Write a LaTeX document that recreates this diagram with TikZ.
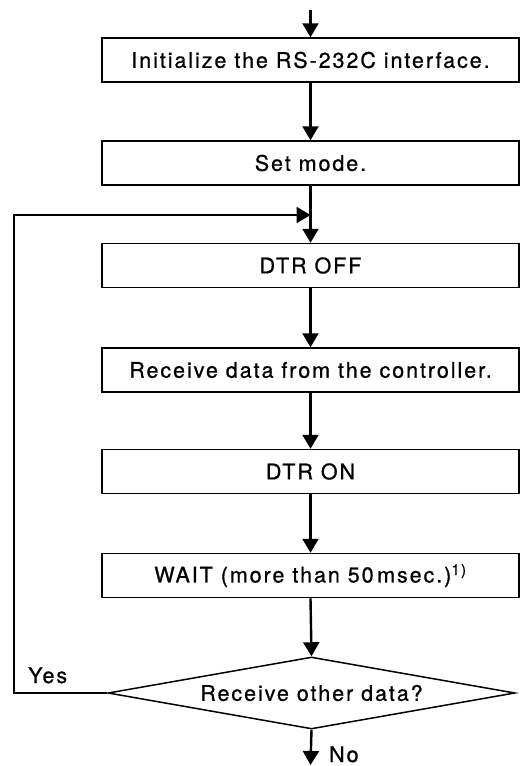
\documentclass[tikz,border=0pt]{standalone}
\usepackage{fontspec}
\setmainfont[LetterSpace=9,FakeBold=0.8]{TeX Gyre Heros}
\usetikzlibrary{arrows.meta,shapes.geometric}
\begin{document}
\begin{tikzpicture}[x=1pt,y=-1pt, line width=2.4pt,
  txt/.style={font=\fontsize{21.5}{25}\selectfont},
  box/.style={draw, txt, line width=1.5pt, minimum width=417pt, minimum height=44pt, inner sep=0pt},
  dec/.style={draw, txt, line width=1.5pt, diamond, aspect=5.65, minimum width=407pt, minimum height=72pt, inner sep=0pt},
  lbl/.style={txt, inner sep=0pt},
  arr/.style={-{Triangle[width=16pt,length=14pt]}}]
\useasboundingbox (0,0) rectangle (523,766);
\coordinate (start) at (310.5,10);
\node[box] (b1) at (310.5,60) {Initialize the RS-232C interface.};
\node[box] (b2) at (310.5,163) {Set mode.};
\coordinate (join) at (310.5,215);
\node[box] (b3) at (310.5,265.5) {DTR OFF};
\node[box] (b4) at (310.5,370) {Receive data from the controller.};
\node[box] (b5) at (310.5,471.5) {DTR ON};
\node[box] (b6) at (310.5,575.5) {WAIT (more than 50\,msec.)\textsuperscript{1)}};
\node[dec] (d) at (311.5,693) {Receive other data?};
\coordinate (cornerA) at (14,693);
\coordinate (cornerB) at (14,215);
\coordinate (stop) at (310.5,765);
\node[lbl, anchor=base west] (yes) at (27,683) {Yes};
\node[lbl, anchor=base west] (no) at (328,762) {No};
\draw[arr] (start) -- (b1.north);
\draw[arr] (b1.south) -- (b2.north);
\draw[arr] (b2.south) -- (b3.north);
\draw[arr] (b3.south) -- (b4.north);
\draw[arr] (b4.south) -- (b5.north);
\draw[arr] (b5.south) -- (b6.north);
\draw[arr] (b6.south) -- (d.north);
\draw[arr] (d.west) -- (cornerA) -- (cornerB) -- (join);
\draw[arr] (d.south) -- (stop);
\end{tikzpicture}
\end{document}
